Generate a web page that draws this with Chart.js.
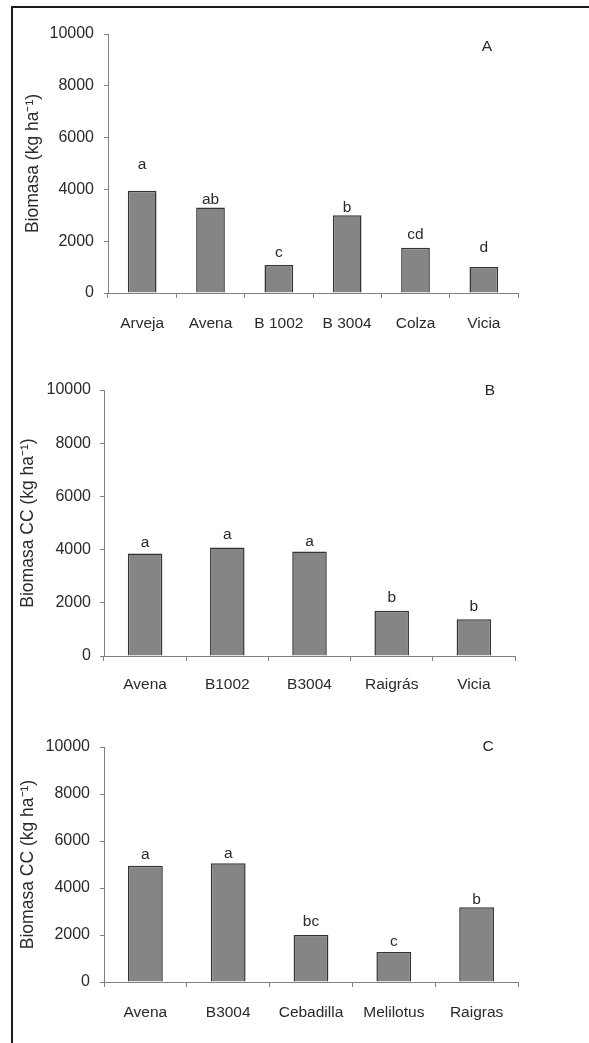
<!DOCTYPE html>
<html>
<head>
<meta charset="utf-8">
<script src="https://cdn.jsdelivr.net/npm/chart.js@4"></script>
<style>
  html, body { margin: 0; padding: 0; background: #fff; }
  body { width: 589px; height: 1043px; position: relative; overflow: hidden; }
  #frame { position: absolute; left: 11px; top: 6px; width: 700px; height: 1100px;
           border-left: 2px solid #1c1c1c; border-top: 2px solid #1c1c1c; }
  canvas { position: absolute; left: 0; }
</style>
</head>
<body>
<div id="frame"></div>
<canvas id="cA" width="589" height="360" style="top:0px"></canvas>
<canvas id="cB" width="589" height="370" style="top:340px"></canvas>
<canvas id="cC" width="589" height="353" style="top:690px"></canvas>
<script>
// ---- data ----
const yTicks = [0, 2000, 4000, 6000, 8000, 10000];

const catsA = ['Arveja', 'Avena', 'B 1002', 'B 3004', 'Colza', 'Vicia'];
const valsA = [3950, 3300, 1080, 3000, 1750, 1000];
const letA  = ['a', 'ab', 'c', 'b', 'cd', 'd'];

const catsB = ['Avena', 'B1002', 'B3004', 'Raigrás', 'Vicia'];
const valsB = [3850, 4080, 3930, 1700, 1380];
const letB  = ['a', 'a', 'a', 'b', 'b'];

const catsC = ['Avena', 'B3004', 'Cebadilla', 'Melilotus', 'Raigras'];
const valsC = [4950, 5050, 2000, 1280, 3180];
const letC  = ['a', 'a', 'bc', 'c', 'b'];

// ---- style / layout ----
const FONT = 'Liberation Sans, Arial, sans-serif';
const TXT = '#2a2a2a';

const letterPlugin = {
  id: 'letters',
  afterDatasetsDraw(chart, args, opts) {
    const ctx = chart.ctx;
    const meta = chart.getDatasetMeta(0);
    ctx.save();
    ctx.fillStyle = TXT;
    ctx.font = '15.5px ' + FONT;
    ctx.textAlign = 'center';
    ctx.textBaseline = 'alphabetic';
    meta.data.forEach((bar, i) => {
      const lift = (opts.lifts && opts.lifts[i] != null) ? opts.lifts[i] : 6;
      ctx.fillText(opts.letters[i], bar.x, bar.y - lift);
    });
    ctx.textBaseline = 'middle';
    ctx.fillText(opts.panel, opts.panelX, opts.panelY);
    ctx.restore();
  }
};

function makePanel(id, cats, vals, letters, cfg) {
  const H = document.getElementById(id).height;
  return new Chart(document.getElementById(id), {
    type: 'bar',
    data: {
      labels: cats,
      datasets: [{
        data: vals,
        backgroundColor: '#858585',
        borderColor: '#333333',
        borderWidth: 1.5,
        borderSkipped: 'bottom',
        categoryPercentage: 1.0,
        barPercentage: 0.42
      }]
    },
    options: {
      responsive: false,
      animation: false,
      devicePixelRatio: 1,
      layout: { padding: { left: 0, top: cfg.top, right: 589 - cfg.right, bottom: 0 } },
      plugins: {
        legend: { display: false },
        tooltip: { enabled: false },
        letters: { letters: letters, lifts: cfg.lifts, panel: cfg.panel, panelX: cfg.panelX, panelY: cfg.panelY }
      },
      scales: {
        x: {
          grid: { display: true, drawOnChartArea: false, drawTicks: true, tickLength: 5, color: '#808080', offset: true },
          border: { display: true, color: '#808080', width: 1 },
          ticks: { color: TXT, font: { family: FONT, size: 15.5 }, padding: cfg.xPad, maxRotation: 0, autoSkip: false },
          afterFit(scale) { scale.height = H - cfg.bottom; }
        },
        y: {
          min: 0, max: 10000,
          afterBuildTicks(scale) { scale.ticks = yTicks.map(v => ({ value: v })); },
          grid: { display: true, drawOnChartArea: false, drawTicks: true, tickLength: 4, color: '#808080' },
          border: { display: true, color: '#808080', width: 1 },
          ticks: { color: TXT, font: { family: FONT, size: 16 }, padding: cfg.yPad,
                   callback: v => String(v) },
          title: { display: true, text: cfg.title, color: TXT, font: { family: FONT, size: 17.5 },
                   padding: { top: cfg.titlePad, bottom: 0 } },
          afterFit(scale) { scale.width = cfg.left; }
        }
      }
    },
    plugins: [letterPlugin]
  });
}

makePanel('cA', catsA, valsA, letA, {
  top: 34, bottom: 293, left: 108, right: 518, xPad: 16, yPad: 10, titlePad: 23,
  title: 'Biomasa (kg ha⁻¹)', panel: 'A', panelX: 487, panelY: 47,
  lifts: [22, 4, 8, 3, 9, 15]
});
makePanel('cB', catsB, valsB, letB, {
  top: 50, bottom: 316, left: 104, right: 515, xPad: 14, yPad: 9, titlePad: 18,
  title: 'Biomasa CC (kg ha⁻¹)', panel: 'B', panelX: 490, panelY: 51,
  lifts: [7, 8, 5, 9, 8]
});
makePanel('cC', catsC, valsC, letC, {
  top: 57, bottom: 292, left: 104, right: 518, xPad: 16, yPad: 10, titlePad: 18,
  title: 'Biomasa CC (kg ha⁻¹)', panel: 'C', panelX: 488, panelY: 57,
  lifts: [7, 5, 9, 6, 3]
});
</script>
</body>
</html>
